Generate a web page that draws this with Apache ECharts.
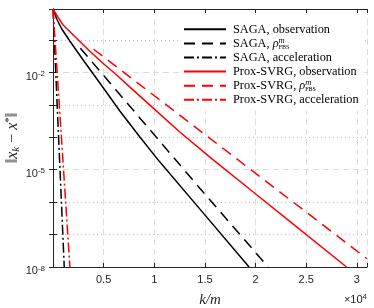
<!DOCTYPE html>
<html><head><meta charset="utf-8">
<script src="https://cdn.jsdelivr.net/npm/echarts@6/dist/echarts.min.js"></script>
<style>html,body{margin:0;padding:0;background:#fff}#c{width:374px;height:308px}</style>
</head><body><div id="c"></div>
<script>
// ---- data (k/m iterations, error ||x_k - x*||) ----
const seriesNames = ['SAGA, observation', 'SAGA, ρ^m_FBS', 'SAGA, acceleration',
  'Prox-SVRG, observation', 'Prox-SVRG, ρ^m_FBS', 'Prox-SVRG, acceleration'];
const sagaObsK   = [0, 356, 850, 1640, 3099, 4605, 6581, 8557, 10534, 14486, 19358];
const sagaObsErr = [0.906, 0.454, 0.223, 0.095, 0.0214, 4.8e-3, 6.6e-4, 1.04e-4, 1.75e-5, 6.2e-7, 1.0e-8];
const sagaRateK   = [2700, 14490, 21240];
const sagaRateErr = [0.056, 2.7e-6, 1.0e-8];
const sagaAccK   = [0, 1110];
const sagaAccErr = [0.906, 1.0e-8];
const svrgObsK   = [0, 455, 978, 2302, 3617, 4931, 6255, 7569, 9872, 12490, 15455, 19427, 23379, 28982];
const svrgObsErr = [0.906, 0.524, 0.296, 0.115, 0.0457, 0.0192, 8.5e-3, 3.6e-3, 8.1e-4, 1.48e-4, 2.5e-5, 2.5e-6, 2.55e-7, 1.0e-8];
const svrgRateK   = [4010, 18930, 31000];
const svrgRateErr = [0.052, 1.4e-5, 1.8e-8];
const svrgAccK   = [0, 1670];
const svrgAccErr = [0.906, 1.0e-8];
const xTickValues = [5000, 10000, 15000, 20000, 25000, 30000];
const xTickLabels = ['0.5', '1', '1.5', '2', '2.5', '3'];
const yTickExps = [-8, -5, -2];
const xMin = 0, xMax = 31000;
const yMinExp = -8, yMaxExp = -0.043;

// ---- chart ----
const frame = '#262626';
const black = '#000000', red = '#ff0000';
const serif = 'Liberation Serif', sans = 'Liberation Sans';
const dashed = [11, 7], dashDot = [10, 3, 2, 3];

function mk(name, ks, errs, color, type) {
  return {
    name, type: 'line', symbol: 'none', showSymbol: false,
    data: ks.map((k, i) => [k, Math.log10(errs[i])]),
    smooth: false,
    lineStyle: { color, width: 1.5, type }, itemStyle: { color },
    clip: true, emphasis: { disabled: true }
  };
}

const transp = 'rgba(0,0,0,0)', dot = '#bdbdbd';
const chart = echarts.init(document.getElementById('c'));
chart.setOption({
  animation: false,
  backgroundColor: '#fff',
  grid: { left: 53, right: 7, top: 9, bottom: 41, containLabel: false, outerBoundsMode: 'none' },
  xAxis: [{
    type: 'value', position: 'bottom', min: xMin, max: xMax, interval: 5000,
    axisLine: { show: true, lineStyle: { color: frame, width: 1 } },
    axisTick: { show: true, inside: true, length: 4, lineStyle: { color: frame } },
    axisLabel: { color: frame, fontFamily: sans, fontSize: 11, margin: 7,
      formatter: v => { const i = xTickValues.indexOf(v); return i >= 0 ? xTickLabels[i] : ''; } },
    splitLine: { show: true, lineStyle: { color: '#dcdcdc', type: [6, 4], width: 1 } },
    name: 'k/m', nameLocation: 'middle', nameGap: 33, nameMoveOverlap: false,
    nameTextStyle: { fontFamily: serif, fontStyle: 'italic', fontSize: 15, color: frame, verticalAlign: 'middle' }
  }, {
    type: 'value', position: 'top', min: xMin, max: xMax, interval: 5000,
    axisLine: { show: true, lineStyle: { color: frame, width: 1 } },
    axisTick: { show: true, inside: true, length: 4, lineStyle: { color: frame } },
    axisLabel: { show: false }, splitLine: { show: false }
  }],
  yAxis: [{
    type: 'value', position: 'left', min: yMinExp, max: yMaxExp, interval: 1,
    axisLine: { show: true, lineStyle: { color: frame, width: 1 } },
    axisTick: { show: true, inside: true, length: 4, lineStyle: { color: frame } },
    axisLabel: {
      margin: 8, padding: [8.6, 0, 0, 0],
      formatter: v => yTickExps.indexOf(v) >= 0 ? '{b|10}{s|' + v + '}' : '',
      rich: {
        b: { fontFamily: sans, fontSize: 11, color: frame, lineHeight: 14 },
        s: { fontFamily: sans, fontSize: 8, color: frame, lineHeight: 2, verticalAlign: 'top' }
      }
    },
    splitLine: { show: true, lineStyle: { type: [1, 3], width: 1,
      color: [transp, dot, dot, transp, dot, dot, transp, dot, transp] } },
    name: '{n|‖}{i|x}{k|k}{n| − }{i|x}{p|*}{n|‖}', nameLocation: 'middle', nameGap: 40,
    nameMoveOverlap: false,
    nameTextStyle: {
      verticalAlign: 'middle',
      rich: {
        n: { fontFamily: serif, fontSize: 16, color: frame, lineHeight: 18 },
        i: { fontFamily: serif, fontSize: 16, fontStyle: 'italic', color: frame, lineHeight: 18 },
        k: { fontFamily: serif, fontSize: 11, fontStyle: 'italic', color: frame, lineHeight: 6, verticalAlign: 'bottom' },
        p: { fontFamily: serif, fontSize: 11, color: frame, lineHeight: 6, verticalAlign: 'top' }
      }
    }
  }, {
    type: 'value', position: 'right', min: yMinExp, max: yMaxExp, interval: 1,
    axisLine: { show: true, lineStyle: { color: frame, width: 1 } },
    axisTick: { show: true, inside: true, length: 4, lineStyle: { color: frame } },
    axisLabel: { show: false }, splitLine: { show: false }
  }, {
    type: 'value', position: 'left', min: yMinExp, max: yMaxExp, interval: 3,
    axisLine: { show: false }, axisTick: { show: false }, axisLabel: { show: false },
    splitLine: { show: true, lineStyle: { color: '#dcdcdc', type: [6, 4], width: 1 } }
  }],
  legend: {
    orient: 'vertical', left: 180, top: 16,
    padding: [6.3, 5, 4, 3], backgroundColor: '#fff', borderWidth: 0,
    itemWidth: 42, itemHeight: 14, itemGap: 0.1,
    itemStyle: { color: 'rgba(0,0,0,0)', borderWidth: 0, opacity: 0 },
    data: seriesNames,
    formatter: name => {
      const i = name.indexOf('ρ');
      return i < 0 ? name : name.slice(0, i) + '{r|ρ}{m|m}{f|FBS}';
    },
    textStyle: {
      fontFamily: serif, fontSize: 12.3, color: '#000', lineHeight: 14, padding: [0, 0, 0, 2],
      rich: {
        r: { fontFamily: serif, fontSize: 12.3, fontStyle: 'italic', color: '#000', lineHeight: 14 },
        m: { fontFamily: serif, fontSize: 8.5, fontStyle: 'italic', color: '#000', lineHeight: 4, verticalAlign: 'top', width: 0.1 },
        f: { fontFamily: serif, fontSize: 6, color: '#000', lineHeight: 6, verticalAlign: 'bottom' }
      }
    }
  },
  graphic: [{
    type: 'text', right: 7, top: 293,
    style: {
      text: '{b|×10}{s|4}',
      rich: {
        b: { fontFamily: sans, fontSize: 11, fill: frame, lineHeight: 14 },
        s: { fontFamily: sans, fontSize: 8, fill: frame, lineHeight: 4, verticalAlign: 'top' }
      }
    }
  }],
  series: [
    mk(seriesNames[0], sagaObsK, sagaObsErr, black, 'solid'),
    mk(seriesNames[1], sagaRateK, sagaRateErr, black, dashed),
    mk(seriesNames[2], sagaAccK, sagaAccErr, black, dashDot),
    mk(seriesNames[3], svrgObsK, svrgObsErr, red, 'solid'),
    mk(seriesNames[4], svrgRateK, svrgRateErr, red, dashed),
    mk(seriesNames[5], svrgAccK, svrgAccErr, red, dashDot)
  ]
});
</script></body></html>
